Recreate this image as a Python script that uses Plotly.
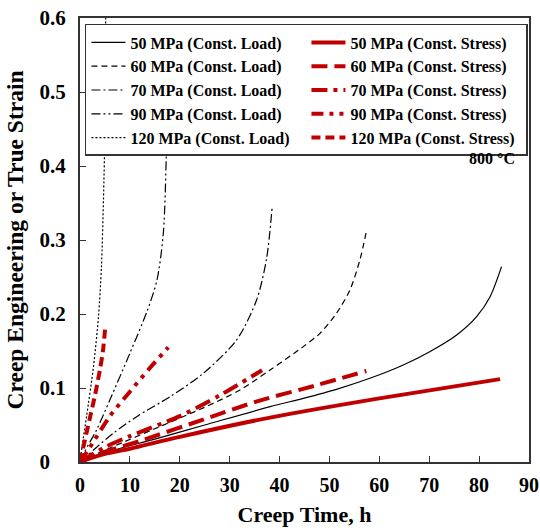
import plotly.graph_objects as go

# ---- data ----
t_load50 = [0, 2, 6.7, 15, 25, 38.1, 44.75, 51.4, 58.1, 64.8, 70.1, 75.5, 79.5, 82.2, 84.5]
e_load50 = [0, 0.006, 0.016, 0.031, 0.050, 0.0748, 0.086, 0.0982, 0.1131, 0.1311, 0.149, 0.1716, 0.1964, 0.2234, 0.264]

t_load60 = [0, 1, 3, 6.7, 15, 25, 32, 38.1, 44.75, 48.1, 51.4, 54.1, 56.1, 57.45]
e_load60 = [0, 0.004, 0.010, 0.021, 0.045, 0.074, 0.097, 0.1243, 0.1559, 0.1739, 0.2009, 0.2324, 0.273, 0.3135]

t_load70 = [0, 1, 3, 6.7, 11.35, 18.04, 24.7, 31.4, 35.4, 37.4, 38.5]
e_load70 = [0, 0.006, 0.018, 0.039, 0.0613, 0.0883, 0.1198, 0.165, 0.219, 0.275, 0.343]

t_load90 = [0, 1, 3.3, 6, 10, 13.4, 15.4, 16.7, 17.4, 17.7]
e_load90 = [0, 0.015, 0.043, 0.084, 0.147, 0.203, 0.245, 0.309, 0.444, 0.55]

t_load120 = [0, 0.5, 1.3, 2.7, 3.7, 4.3, 4.7, 5.0, 5.15]
e_load120 = [0, 0.025, 0.061, 0.129, 0.196, 0.264, 0.354, 0.449, 0.60]

t_str50 = [0, 2, 5, 10, 20, 38.1, 60, 84.2]
e_str50 = [0, 0.005, 0.011, 0.018, 0.034, 0.060, 0.086, 0.112]

t_str60 = [0, 3, 7, 12.7, 25, 36, 47, 57.4]
e_str60 = [0, 0.009, 0.018, 0.030, 0.058, 0.083, 0.103, 0.123]

t_str70 = [0, 5, 10, 20, 28, 36.5]
e_str70 = [0, 0.020, 0.035, 0.062, 0.090, 0.124]

t_str90 = [0, 2, 6, 10, 14, 17.7]
e_str90 = [0, 0.020, 0.062, 0.095, 0.127, 0.155]

t_str120 = [0, 1, 2, 3, 4, 4.6, 5.1]
e_str120 = [0, 0.030, 0.060, 0.090, 0.125, 0.150, 0.185]

stresses = ["50", "60", "70", "90", "120"]
load_t = [t_load50, t_load60, t_load70, t_load90, t_load120]
load_e = [e_load50, e_load60, e_load70, e_load90, e_load120]
str_t = [t_str50, t_str60, t_str70, t_str90, t_str120]
str_e = [e_str50, e_str60, e_str70, e_str90, e_str120]

x_ticks = [0, 10, 20, 30, 40, 50, 60, 70, 80, 90]
y_ticks = [0, 0.1, 0.2, 0.3, 0.4, 0.5, 0.6]
y_ticktext = ["0\u00a0\u00a0\u00a0", "0.1", "0.2", "0.3", "0.4", "0.5", "0.6"]

# ---- styles ----
RED = "#C00000"
load_dash = ["solid", "6px,4px", "9px,3px,2px,3px", "9px,3px,2px,3px,2px,3px", "2px,2px"]
str_dash = ["solid", "16px,7px", "16px,6px,4px,6px", "12px,6px,4px,6px,4px,6px", "9px,5px"]
FONT = "Liberation Serif, Times New Roman, serif"

fig = go.Figure()
for i, s in enumerate(stresses):
    fig.add_trace(go.Scatter(
        x=load_t[i], y=load_e[i], mode="lines",
        line=dict(color="black", width=1.2, dash=load_dash[i], shape="spline", smoothing=0.8),
        name=f"{s} MPa (Const. Load)"))
    fig.add_trace(go.Scatter(
        x=str_t[i], y=str_e[i], mode="lines",
        line=dict(color=RED, width=4, dash=str_dash[i], shape="spline", smoothing=0.8),
        name=f"{s} MPa (Const. Stress)"))

fig.update_layout(
    width=540, height=530,
    margin=dict(l=80, r=11, t=18, b=68, autoexpand=False),
    paper_bgcolor="white", plot_bgcolor="white",
    font=dict(family=FONT, size=18, color="black", weight="bold"),
    showlegend=True,
    legend=dict(
        orientation="h", x=0.011, y=0.9865, xanchor="left", yanchor="top",
        entrywidth=171, entrywidthmode="pixels",
        bgcolor="white", bordercolor="#333333", borderwidth=1.5,
        font=dict(family=FONT, size=16, color="black", weight="bold"),
        traceorder="normal", itemwidth=34,
    ),
    annotations=[dict(
        text="800 °C", xref="paper", yref="paper", x=0.973, y=0.684,
        xanchor="right", yanchor="middle", showarrow=False,
        font=dict(family=FONT, size=16, color="black", weight="bold"))],
)
fig.update_xaxes(
    range=[0, 90], tickvals=x_ticks, ticks="inside", ticklen=6, tickwidth=1.2,
    tickcolor="#333333", showline=True, linecolor="#333333", linewidth=2, mirror=True,
    showgrid=False, zeroline=False, ticklabelstandoff=4, automargin=False,
    ticklabeloverflow="allow",
    tickfont=dict(family=FONT, size=20, weight="bold"),
    title=dict(text="Creep Time, h", font=dict(family=FONT, size=22, weight="bold"), standoff=12),
)
fig.update_yaxes(
    range=[0, 0.6], tickvals=y_ticks, ticktext=y_ticktext, ticks="inside", ticklen=6, tickwidth=1.2,
    tickcolor="#333333", showline=True, linecolor="#333333", linewidth=2, mirror=True,
    showgrid=False, zeroline=False, ticklabelstandoff=8, automargin=False,
    ticklabeloverflow="allow",
    tickfont=dict(family=FONT, size=21, weight="bold"),
    title=dict(text="Creep Engineering or True Strain", font=dict(family=FONT, size=23.5, weight="bold"), standoff=9),
)

# remove the default 8px page margin so the figure fills the 540x530 window
fig.write_html("out.html", config={"displayModeBar": False},
               post_script="document.body.style.margin='0';")
